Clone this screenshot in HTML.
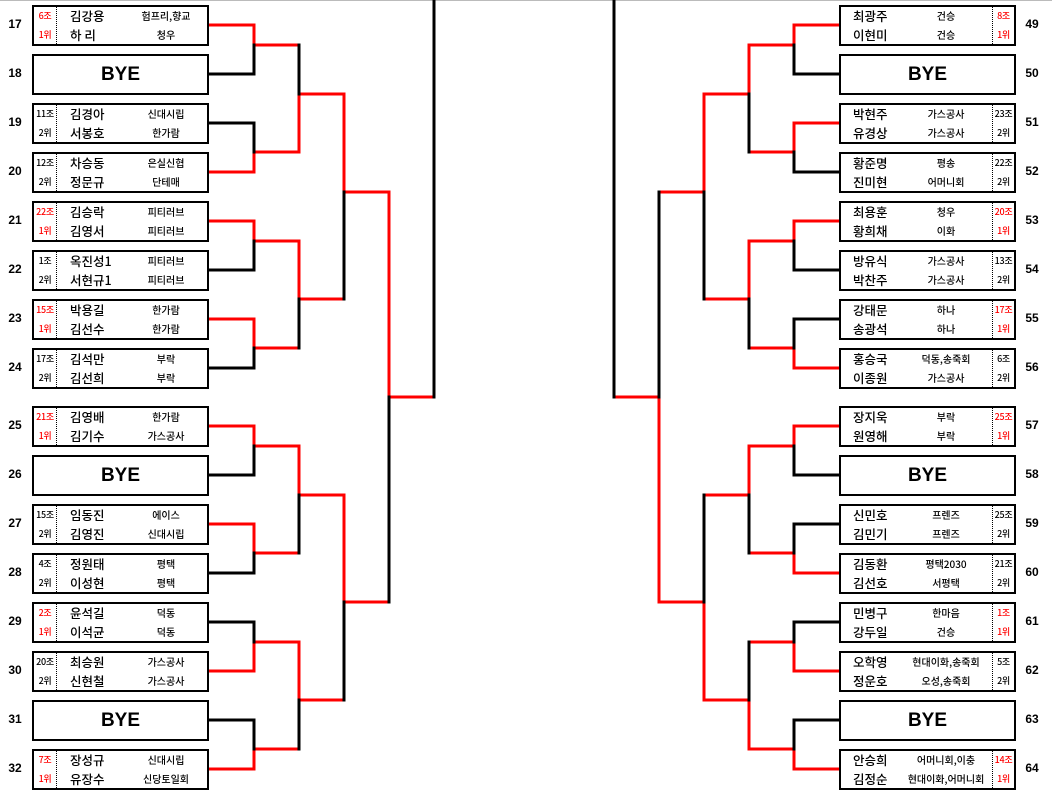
<!DOCTYPE html>
<html><head><meta charset="utf-8">
<style>
body{margin:0;width:1052px;height:791px;background:#fff;position:relative;overflow:hidden;font-family:"Liberation Sans","Noto Sans CJK KR",sans-serif;color:#000}
.box{position:absolute;width:177px;height:41px;border:2px solid #000;box-sizing:border-box;background:#fff}
.L{left:32px}.R{left:839px}
.g{position:absolute;top:0;width:22px;height:37px;border-right:1px dotted #000}
.R .g{left:151px;border-right:none;border-left:1px dotted #000;width:21px}
.L .g{left:0}
.t{position:absolute;white-space:nowrap;font-family:"Noto Sans CJK KR","NanumGothic",sans-serif}
.r1{top:0;height:17px;line-height:17px}
.r2{top:18px;height:20px;line-height:20px}
.gr{font-size:9px;width:22px;text-align:center;left:0;font-weight:500;letter-spacing:-0.3px}
.R .gr{left:152px !important;width:21px}
.red{color:#f00}
.nm{font-size:12.5px;font-weight:500}
.L .nm{left:36px}.R .nm{left:12px}
.cl{font-size:10px;width:100px;text-align:center;font-weight:500}
.L .cl{left:82px}.R .cl{left:55px}
.bye{font-size:19px;font-weight:bold;text-align:center;line-height:37px;font-family:"Liberation Sans",sans-serif}
.num{position:absolute;font-size:12px;font-weight:bold;width:30px;text-align:center}
svg{position:absolute;left:0;top:0}
</style></head><body>
<div style="position:absolute;left:0;top:0;width:1052px;height:1px;background:#bbb"></div>
<svg width="1052" height="791">
<g stroke-width="3" fill="none" stroke-linecap="square">
<g stroke="#f00">
<path d="M209 25H254V45H299"/><path d="M209 172H254V152H299"/><path d="M209 221H254V241H299"/><path d="M209 319H254V348H299"/>
<path d="M209 426H254V446H299"/><path d="M209 524H254V553H299"/><path d="M209 671H254V642H299"/><path d="M209 769H254V749H299"/>
<path d="M299 152V94H344"/><path d="M299 241V299H344"/><path d="M299 446V495H344"/><path d="M299 642V700H344"/>
<path d="M344 94V192H389"/><path d="M344 495V602H389"/>
<path d="M389 192V397H434"/>
</g>
<g stroke="#000">
<path d="M209 74H254V45"/><path d="M209 123H254V152"/><path d="M209 270H254V241"/><path d="M209 368H254V348"/>
<path d="M209 475H254V446"/><path d="M209 573H254V553"/><path d="M209 622H254V642"/><path d="M209 720H254V749"/>
<path d="M299 45V94"/><path d="M299 299V348"/><path d="M299 495V553"/><path d="M299 700V749"/>
<path d="M344 192V299"/><path d="M344 602V700"/>
<path d="M389 397V602"/>
<path d="M434 0V397"/>
</g>
<g stroke="#f00">
<path d="M839 25H794V45H749"/><path d="M839 123H794V152H749"/><path d="M839 221H794V241H749"/><path d="M839 368H794V348H749"/>
<path d="M839 426H794V446H749"/><path d="M839 573H794V553H749"/><path d="M839 671H794V642H749"/><path d="M839 769H794V749H749"/>
<path d="M749 45V94H704"/><path d="M749 241V299H704"/><path d="M749 446V495H704"/><path d="M749 749V700H704"/>
<path d="M704 94V192H659"/><path d="M704 700V602H659"/>
<path d="M659 602V397H614"/>
</g>
<g stroke="#000">
<path d="M839 74H794V45"/><path d="M839 172H794V152"/><path d="M839 270H794V241"/><path d="M839 319H794V348"/>
<path d="M839 475H794V446"/><path d="M839 524H794V553"/><path d="M839 622H794V642"/><path d="M839 720H794V749"/>
<path d="M749 94V152"/><path d="M749 299V348"/><path d="M749 495V553"/><path d="M749 642V700"/>
<path d="M704 192V299"/><path d="M704 495V602"/>
<path d="M659 192V397"/>
<path d="M614 0V397"/>
</g>
</g>
</svg>

<div class="num" style="left:0;top:17px">17</div><div class="num" style="left:0;top:66px">18</div>
<div class="num" style="left:0;top:115px">19</div><div class="num" style="left:0;top:164px">20</div>
<div class="num" style="left:0;top:213px">21</div><div class="num" style="left:0;top:262px">22</div>
<div class="num" style="left:0;top:311px">23</div><div class="num" style="left:0;top:360px">24</div>
<div class="num" style="left:0;top:418px">25</div><div class="num" style="left:0;top:467px">26</div>
<div class="num" style="left:0;top:516px">27</div><div class="num" style="left:0;top:565px">28</div>
<div class="num" style="left:0;top:614px">29</div><div class="num" style="left:0;top:663px">30</div>
<div class="num" style="left:0;top:712px">31</div><div class="num" style="left:0;top:761px">32</div>
<div class="num" style="left:1017px;top:17px">49</div><div class="num" style="left:1017px;top:66px">50</div>
<div class="num" style="left:1017px;top:115px">51</div><div class="num" style="left:1017px;top:164px">52</div>
<div class="num" style="left:1017px;top:213px">53</div><div class="num" style="left:1017px;top:262px">54</div>
<div class="num" style="left:1017px;top:311px">55</div><div class="num" style="left:1017px;top:360px">56</div>
<div class="num" style="left:1017px;top:418px">57</div><div class="num" style="left:1017px;top:467px">58</div>
<div class="num" style="left:1017px;top:516px">59</div><div class="num" style="left:1017px;top:565px">60</div>
<div class="num" style="left:1017px;top:614px">61</div><div class="num" style="left:1017px;top:663px">62</div>
<div class="num" style="left:1017px;top:712px">63</div><div class="num" style="left:1017px;top:761px">64</div>

<div class="box L" style="top:5px"><div class="g"></div><span class="t gr r1 red">6조</span><span class="t gr r2 red">1위</span><span class="t nm r1">김강용</span><span class="t nm r2">하 리</span><span class="t cl r1">험프리,향교</span><span class="t cl r2">청우</span></div>
<div class="box L bye" style="top:54px">BYE</div>
<div class="box L" style="top:103px"><div class="g"></div><span class="t gr r1">11조</span><span class="t gr r2">2위</span><span class="t nm r1">김경아</span><span class="t nm r2">서봉호</span><span class="t cl r1">신대시립</span><span class="t cl r2">한가람</span></div>
<div class="box L" style="top:152px"><div class="g"></div><span class="t gr r1">12조</span><span class="t gr r2">2위</span><span class="t nm r1">차승동</span><span class="t nm r2">정문규</span><span class="t cl r1">은실신협</span><span class="t cl r2">단테매</span></div>
<div class="box L" style="top:201px"><div class="g"></div><span class="t gr r1 red">22조</span><span class="t gr r2 red">1위</span><span class="t nm r1">김승락</span><span class="t nm r2">김영서</span><span class="t cl r1">피티러브</span><span class="t cl r2">피티러브</span></div>
<div class="box L" style="top:250px"><div class="g"></div><span class="t gr r1">1조</span><span class="t gr r2">2위</span><span class="t nm r1">옥진성1</span><span class="t nm r2">서현규1</span><span class="t cl r1">피티러브</span><span class="t cl r2">피티러브</span></div>
<div class="box L" style="top:299px"><div class="g"></div><span class="t gr r1 red">15조</span><span class="t gr r2 red">1위</span><span class="t nm r1">박용길</span><span class="t nm r2">김선수</span><span class="t cl r1">한가람</span><span class="t cl r2">한가람</span></div>
<div class="box L" style="top:348px"><div class="g"></div><span class="t gr r1">17조</span><span class="t gr r2">2위</span><span class="t nm r1">김석만</span><span class="t nm r2">김선희</span><span class="t cl r1">부락</span><span class="t cl r2">부락</span></div>
<div class="box L" style="top:406px"><div class="g"></div><span class="t gr r1 red">21조</span><span class="t gr r2 red">1위</span><span class="t nm r1">김영배</span><span class="t nm r2">김기수</span><span class="t cl r1">한가람</span><span class="t cl r2">가스공사</span></div>
<div class="box L bye" style="top:455px">BYE</div>
<div class="box L" style="top:504px"><div class="g"></div><span class="t gr r1">15조</span><span class="t gr r2">2위</span><span class="t nm r1">임동진</span><span class="t nm r2">김영진</span><span class="t cl r1">에이스</span><span class="t cl r2">신대시립</span></div>
<div class="box L" style="top:553px"><div class="g"></div><span class="t gr r1">4조</span><span class="t gr r2">2위</span><span class="t nm r1">정원태</span><span class="t nm r2">이성현</span><span class="t cl r1">평택</span><span class="t cl r2">평택</span></div>
<div class="box L" style="top:602px"><div class="g"></div><span class="t gr r1 red">2조</span><span class="t gr r2 red">1위</span><span class="t nm r1">윤석길</span><span class="t nm r2">이석균</span><span class="t cl r1">덕동</span><span class="t cl r2">덕동</span></div>
<div class="box L" style="top:651px"><div class="g"></div><span class="t gr r1">20조</span><span class="t gr r2">2위</span><span class="t nm r1">최승원</span><span class="t nm r2">신현철</span><span class="t cl r1">가스공사</span><span class="t cl r2">가스공사</span></div>
<div class="box L bye" style="top:700px">BYE</div>
<div class="box L" style="top:749px"><div class="g"></div><span class="t gr r1 red">7조</span><span class="t gr r2 red">1위</span><span class="t nm r1">장성규</span><span class="t nm r2">유장수</span><span class="t cl r1">신대시립</span><span class="t cl r2">신당토일회</span></div>

<div class="box R" style="top:5px"><div class="g"></div><span class="t nm r1">최광주</span><span class="t nm r2">이현미</span><span class="t cl r1">건승</span><span class="t cl r2">건승</span><span class="t gr r1 red">8조</span><span class="t gr r2 red">1위</span></div>
<div class="box R bye" style="top:54px">BYE</div>
<div class="box R" style="top:103px"><div class="g"></div><span class="t nm r1">박현주</span><span class="t nm r2">유경상</span><span class="t cl r1">가스공사</span><span class="t cl r2">가스공사</span><span class="t gr r1">23조</span><span class="t gr r2">2위</span></div>
<div class="box R" style="top:152px"><div class="g"></div><span class="t nm r1">황준명</span><span class="t nm r2">진미현</span><span class="t cl r1">평송</span><span class="t cl r2">어머니회</span><span class="t gr r1">22조</span><span class="t gr r2">2위</span></div>
<div class="box R" style="top:201px"><div class="g"></div><span class="t nm r1">최용훈</span><span class="t nm r2">황희채</span><span class="t cl r1">청우</span><span class="t cl r2">이화</span><span class="t gr r1 red">20조</span><span class="t gr r2 red">1위</span></div>
<div class="box R" style="top:250px"><div class="g"></div><span class="t nm r1">방유식</span><span class="t nm r2">박찬주</span><span class="t cl r1">가스공사</span><span class="t cl r2">가스공사</span><span class="t gr r1">13조</span><span class="t gr r2">2위</span></div>
<div class="box R" style="top:299px"><div class="g"></div><span class="t nm r1">강태문</span><span class="t nm r2">송광석</span><span class="t cl r1">하나</span><span class="t cl r2">하나</span><span class="t gr r1 red">17조</span><span class="t gr r2 red">1위</span></div>
<div class="box R" style="top:348px"><div class="g"></div><span class="t nm r1">홍승국</span><span class="t nm r2">이종원</span><span class="t cl r1">덕동,송죽회</span><span class="t cl r2">가스공사</span><span class="t gr r1">6조</span><span class="t gr r2">2위</span></div>
<div class="box R" style="top:406px"><div class="g"></div><span class="t nm r1">장지욱</span><span class="t nm r2">원영해</span><span class="t cl r1">부락</span><span class="t cl r2">부락</span><span class="t gr r1 red">25조</span><span class="t gr r2 red">1위</span></div>
<div class="box R bye" style="top:455px">BYE</div>
<div class="box R" style="top:504px"><div class="g"></div><span class="t nm r1">신민호</span><span class="t nm r2">김민기</span><span class="t cl r1">프렌즈</span><span class="t cl r2">프렌즈</span><span class="t gr r1">25조</span><span class="t gr r2">2위</span></div>
<div class="box R" style="top:553px"><div class="g"></div><span class="t nm r1">김동환</span><span class="t nm r2">김선호</span><span class="t cl r1">평택2030</span><span class="t cl r2">서평택</span><span class="t gr r1">21조</span><span class="t gr r2">2위</span></div>
<div class="box R" style="top:602px"><div class="g"></div><span class="t nm r1">민병구</span><span class="t nm r2">강두일</span><span class="t cl r1">한마음</span><span class="t cl r2">건승</span><span class="t gr r1 red">1조</span><span class="t gr r2 red">1위</span></div>
<div class="box R" style="top:651px"><div class="g"></div><span class="t nm r1">오학영</span><span class="t nm r2">정운호</span><span class="t cl r1">현대이화,송죽회</span><span class="t cl r2">오성,송죽회</span><span class="t gr r1">5조</span><span class="t gr r2">2위</span></div>
<div class="box R bye" style="top:700px">BYE</div>
<div class="box R" style="top:749px"><div class="g"></div><span class="t nm r1">안승희</span><span class="t nm r2">김정순</span><span class="t cl r1">어머니회,이충</span><span class="t cl r2">현대이화,어머니회</span><span class="t gr r1 red">14조</span><span class="t gr r2 red">1위</span></div>
</body></html>
